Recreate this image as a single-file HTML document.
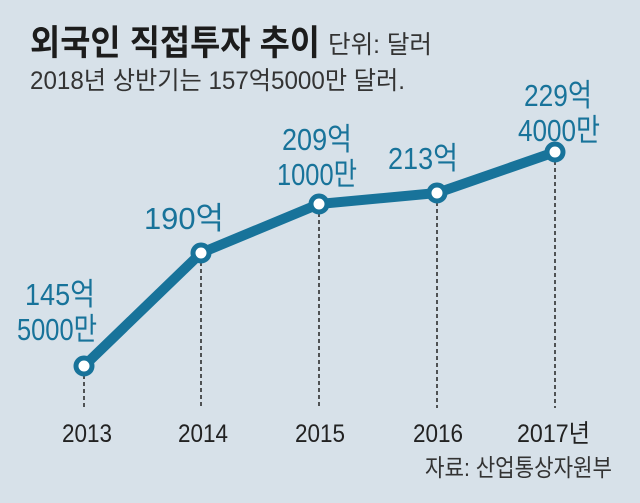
<!DOCTYPE html>
<html><head><meta charset="utf-8"><style>
body{margin:0;width:640px;height:503px;background:#d7e1e9;overflow:hidden}
svg{display:block}
text{font-family:"Liberation Sans","Noto Sans CJK KR",sans-serif}
</style></head><body>
<svg width="640" height="503" viewBox="0 0 640 503">
<rect width="640" height="503" fill="#d7e1e9"/>
<text x="30" y="55" font-size="35" font-weight="bold" fill="#1c1c1c" textLength="290" lengthAdjust="spacingAndGlyphs">외국인 직접투자 추이</text>
<text x="328" y="53" font-size="25" fill="#333" textLength="104" lengthAdjust="spacingAndGlyphs">단위: 달러</text>
<text x="30" y="89" font-size="25" fill="#333" textLength="375" lengthAdjust="spacingAndGlyphs">2018년 상반기는 157억5000만 달러.</text>
<g stroke="#222" stroke-width="1.5" stroke-dasharray="4,3">
<line x1="84" y1="375" x2="84" y2="408"/>
<line x1="201" y1="262" x2="201" y2="408"/>
<line x1="319" y1="213" x2="319" y2="408"/>
<line x1="437" y1="202" x2="437" y2="408"/>
<line x1="555" y1="161" x2="555" y2="408"/>
</g>
<polyline points="84,366 201,253 319,204 437,193 555,152" fill="none" stroke="#18739a" stroke-width="10" stroke-linejoin="round"/>
<g fill="#fff" stroke="#18739a" stroke-width="5">
<circle cx="84" cy="366" r="8"/><circle cx="201" cy="253" r="8"/><circle cx="319" cy="204" r="8"/><circle cx="437" cy="193" r="8"/><circle cx="555" cy="152" r="8"/>
</g>
<g font-size="31" fill="#18739a">
<text x="25" y="305" textLength="70" lengthAdjust="spacingAndGlyphs">145억</text><text x="17" y="340" textLength="80" lengthAdjust="spacingAndGlyphs">5000만</text>
<text x="144" y="229" textLength="80" lengthAdjust="spacingAndGlyphs">190억</text>
<text x="282" y="150" textLength="70" lengthAdjust="spacingAndGlyphs">209억</text><text x="277" y="185" textLength="80" lengthAdjust="spacingAndGlyphs">1000만</text>
<text x="388" y="169" textLength="70" lengthAdjust="spacingAndGlyphs">213억</text>
<text x="524" y="106" textLength="68" lengthAdjust="spacingAndGlyphs">229억</text><text x="518" y="141" textLength="82" lengthAdjust="spacingAndGlyphs">4000만</text>
</g>
<g font-size="25" fill="#222">
<text x="62" y="442" textLength="50" lengthAdjust="spacingAndGlyphs">2013</text><text x="178" y="442" textLength="50" lengthAdjust="spacingAndGlyphs">2014</text><text x="295" y="442" textLength="50" lengthAdjust="spacingAndGlyphs">2015</text><text x="413" y="442" textLength="50" lengthAdjust="spacingAndGlyphs">2016</text><text x="517" y="442" textLength="73" lengthAdjust="spacingAndGlyphs">2017년</text>
</g>
<text x="425" y="476" font-size="24" fill="#333" textLength="187" lengthAdjust="spacingAndGlyphs">자료: 산업통상자원부</text>
</svg>
</body></html>
